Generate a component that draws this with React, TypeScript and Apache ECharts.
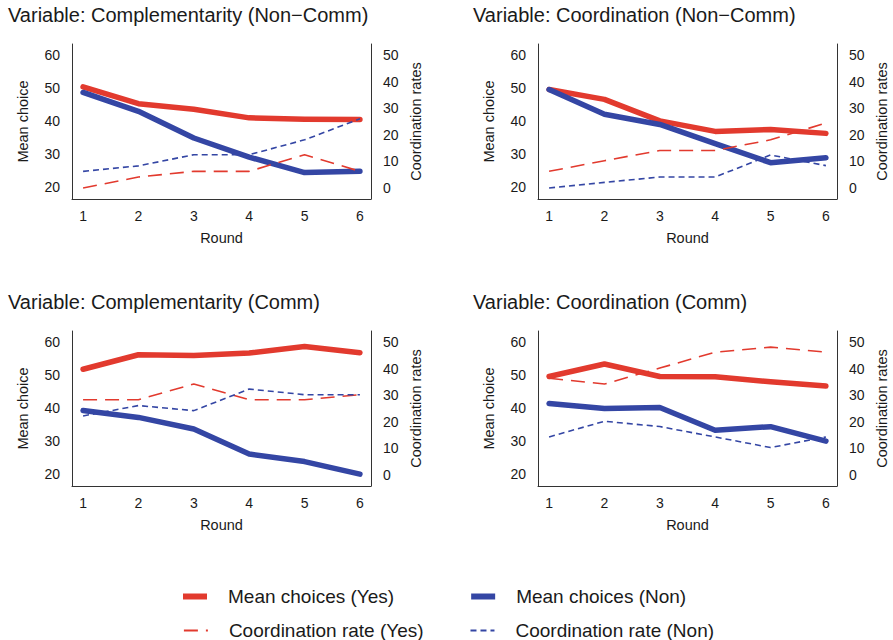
import React, { useEffect, useRef } from "react";
import * as echarts from "echarts";

const rounds = [1, 2, 3, 4, 5, 6];
const meanTicks = [20, 30, 40, 50, 60];
const rateTicks = [0, 10, 20, 30, 40, 50];

const panelTitles = [
  "Variable: Complementarity (Non\u2212Comm)",
  "Variable: Coordination (Non\u2212Comm)",
  "Variable: Complementarity (Comm)",
  "Variable: Coordination (Comm)",
];

// Panel 1: Complementarity (Non-Comm)
const compNonMeanYes = [50.4, 45.3, 43.6, 41.0, 40.6, 40.5];
const compNonMeanNon = [48.7, 43.0, 34.9, 29.1, 24.4, 24.8];
const compNonRateYes = [0, 4.1, 6.25, 6.25, 12.5, 6.25];
const compNonRateNon = [6.25, 8.3, 12.5, 12.5, 18.1, 26];

// Panel 2: Coordination (Non-Comm)
const coordNonMeanYes = [49.6, 46.6, 40.1, 36.9, 37.5, 36.3];
const coordNonMeanNon = [49.6, 42.1, 39.0, 33.2, 27.4, 28.9];
const coordNonRateYes = [6.25, 10.25, 14.1, 14.1, 18.1, 24.4];
const coordNonRateNon = [0, 2.1, 4.1, 4.1, 12.4, 8.4];

// Panel 3: Complementarity (Comm)
const compComMeanYes = [51.8, 56.2, 56.0, 56.7, 58.7, 56.8];
const compComMeanNon = [39.3, 37.2, 33.7, 26.1, 23.8, 20.0];
const compComRateYes = [28.3, 28.3, 34.2, 28.3, 28.3, 30.2];
const compComRateNon = [22.2, 26.1, 24.2, 32.3, 30.2, 30.2];

// Panel 4: Coordination (Comm)
const coordComMeanYes = [49.6, 53.4, 49.6, 49.5, 48.0, 46.7];
const coordComMeanNon = [41.4, 39.9, 40.2, 33.3, 34.4, 30.0];
const coordComRateYes = [36.4, 34.2, 40.2, 46.2, 48.1, 46.2];
const coordComRateNon = [14.3, 20.2, 18.2, 14.3, 10.3, 14.3];

const panels = [
  [compNonMeanYes, compNonMeanNon, compNonRateYes, compNonRateNon],
  [coordNonMeanYes, coordNonMeanNon, coordNonRateYes, coordNonRateNon],
  [compComMeanYes, compComMeanNon, compComRateYes, compComRateNon],
  [coordComMeanYes, coordComMeanNon, coordComRateYes, coordComRateNon],
];

const seriesNames = [
  "Mean choices (Yes)",
  "Mean choices (Non)",
  "Coordination rate (Yes)",
  "Coordination rate (Non)",
];

const RED = "#e23a2e";
const BLUE = "#3446a4";
const TEXT = "#1a1a1a";
const AXIS = "#333333";
const FONT = "'Liberation Sans', Arial, Helvetica, sans-serif";

export default function App() {
  const ref = useRef<HTMLDivElement>(null);

  useEffect(() => {
    if (!ref.current) return;
    const chart = echarts.init(ref.current, undefined, { renderer: "svg" });

    const gridPos = [
      { left: 72, top: 44 },
      { left: 538, top: 44 },
      { left: 72, top: 331 },
      { left: 538, top: 331 },
    ];

    const grid = gridPos.map((g) => ({
      left: g.left,
      top: g.top,
      width: 299,
      height: 155,
      containLabel: false,
    }));

    const title = panelTitles.map((t, i) => ({
      text: t,
      left: i % 2 === 0 ? 8 : 473,
      top: i < 2 ? 5 : 292,
      padding: 0,
      textStyle: { fontSize: 20, fontWeight: "normal", color: TEXT, fontFamily: FONT },
    }));

    const xAxis = gridPos.map((_, i) => ({
      type: "value",
      gridIndex: i,
      min: 0.8,
      max: 6.2,
      name: "Round",
      nameLocation: "middle",
      nameGap: 31,
      nameTextStyle: { fontSize: 14.5, color: TEXT, fontFamily: FONT },
      axisLine: { show: true, onZero: false, lineStyle: { color: AXIS, width: 1 } },
      axisTick: { show: false },
      splitLine: { show: false },
      axisLabel: { customValues: rounds, margin: 10, fontSize: 14, color: TEXT, fontFamily: FONT },
    }));

    const yAxis: any[] = [];
    gridPos.forEach((_, i) => {
      yAxis.push({
        type: "value",
        gridIndex: i,
        position: "left",
        min: 16.4,
        max: 63.4,
        name: "Mean choice",
        nameLocation: "middle",
        nameRotate: 90,
        nameGap: 42,
        nameTextStyle: { fontSize: 14.5, color: TEXT, fontFamily: FONT },
        axisLine: { show: true, lineStyle: { color: AXIS, width: 1 } },
        axisTick: { show: false },
        splitLine: { show: false },
        axisLabel: { customValues: meanTicks, margin: 12, fontSize: 14, color: TEXT, fontFamily: FONT },
      });
      yAxis.push({
        type: "value",
        gridIndex: i,
        position: "right",
        min: -4.16,
        max: 54.16,
        name: "Coordination rates",
        nameLocation: "middle",
        nameRotate: 90,
        nameGap: 37,
        nameTextStyle: { fontSize: 14.5, color: TEXT, fontFamily: FONT },
        axisLine: { show: true, lineStyle: { color: AXIS, width: 1 } },
        axisTick: { show: false },
        splitLine: { show: false },
        axisLabel: { customValues: rateTicks, margin: 12, fontSize: 14, color: TEXT, fontFamily: FONT },
      });
    });

    const styles = [
      { color: RED, width: 5.5, type: "solid", cap: "round", axis: 0 },
      { color: BLUE, width: 5.5, type: "solid", cap: "round", axis: 0 },
      { color: RED, width: 1.6, type: [14, 8], cap: "butt", axis: 1 },
      { color: BLUE, width: 1.6, type: [6, 4], cap: "butt", axis: 1 },
    ];

    const series: any[] = [];
    panels.forEach((arrs, i) => {
      arrs.forEach((vals, k) => {
        const s = styles[k];
        series.push({
          type: "line",
          name: seriesNames[k],
          xAxisIndex: i,
          yAxisIndex: 2 * i + s.axis,
          data: rounds.map((r, j) => [r, vals[j]]),
          symbol: "none",
          showSymbol: false,
          silent: true,
          z: 2 + k,
          itemStyle: { color: s.color },
          lineStyle: { color: s.color, width: s.width, type: s.type, cap: s.cap, join: "round" },
        });
      });
    });

    const legendItem = (k: number) => ({
      name: seriesNames[k],
      itemStyle: { opacity: 0 },
      lineStyle: {
        color: styles[k].color,
        width: k < 2 ? 6 : 1.8,
        type: styles[k].type,
        cap: "butt",
      },
    });

    const legendBase = {
      orient: "horizontal",
      padding: 0,
      itemWidth: 24,
      itemHeight: 14,
      selectedMode: false,
      textStyle: { fontSize: 19, color: TEXT, fontFamily: FONT, padding: [0, 0, 0, 16] },
    };

    const legend = [
      { ...legendBase, left: 180, top: 587, itemGap: 74, data: [legendItem(0), legendItem(1)] },
      { ...legendBase, left: 183, top: 621, itemGap: 46, data: [legendItem(2), legendItem(3)] },
    ];

    chart.setOption({
      animation: false,
      backgroundColor: "#ffffff",
      textStyle: { fontFamily: FONT },
      title,
      grid,
      xAxis,
      yAxis,
      legend,
      series,
    });

    return () => chart.dispose();
  }, []);

  return (
    <div
      ref={ref}
      style={{ position: "absolute", left: 0, top: 0, width: 893, height: 640 }}
    />
  );
}
